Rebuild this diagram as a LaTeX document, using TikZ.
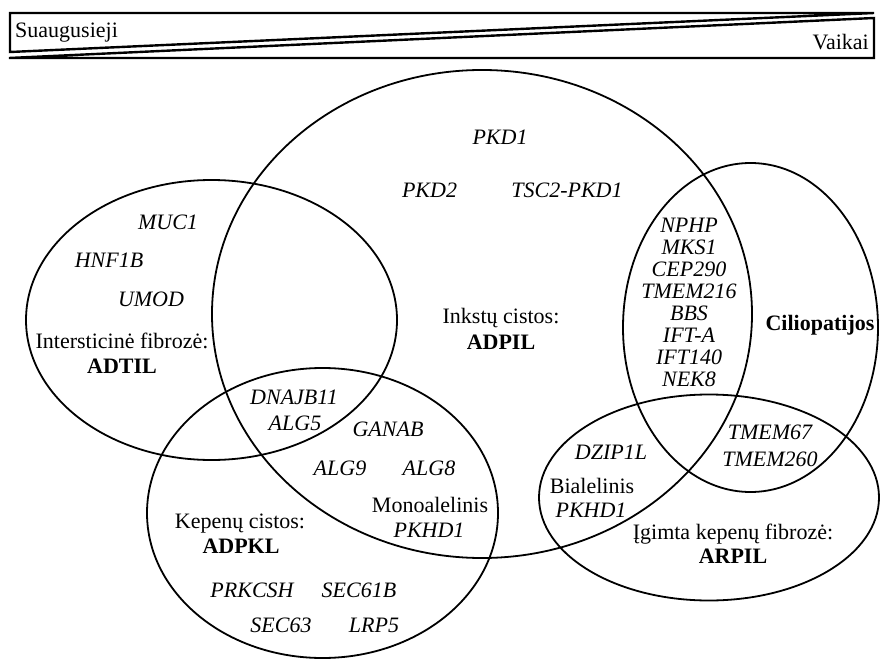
\documentclass[tikz,border=0pt]{standalone}
\usepackage{fontspec}
\setmainfont{Liberation Serif}
\begin{document}
\begin{tikzpicture}[x=1bp,y=-1bp,
  txt/.style={inner sep=0pt, anchor=base, font=\fontsize{22bp}{25bp}\selectfont},
  gene/.style={txt, font=\fontsize{22bp}{25bp}\selectfont\itshape},
  grp/.style={txt, font=\fontsize{22bp}{25bp}\selectfont\bfseries},
  ring/.style={draw=black, line width=1.8bp},
  wedge/.style={draw=black, line width=2.4bp}]
\useasboundingbox (0,0) rectangle (880,659);

% age gradient bar
\draw[wedge] (10,13) -- (874,13) -- (10,52) -- cycle;
\draw[wedge] (9,58) -- (874,58) -- (874,18) -- cycle;
\node[txt, anchor=base west] (adults) at (15,38) {Suaugusieji};
\node[txt, anchor=base east] (children) at (869,50) {Vaikai};

% disease sets
\draw[ring] (482,314) ellipse [x radius=270bp, y radius=244bp];     % ADPIL
\draw[ring] (211.5,320) ellipse [x radius=185.5bp, y radius=140bp]; % ADTIL
\draw[ring] (322.5,513) ellipse [x radius=175.5bp, y radius=145bp]; % ADPKL
\draw[ring] (750.5,327.5) ellipse [x radius=127.5bp, y radius=164.5bp]; % ciliopathies
\draw[ring] (709,497.5) ellipse [x radius=170bp, y radius=103bp];   % ARPIL

% ADPIL
\node[gene] (pkd1) at (500,145) {PKD1};
\node[gene] (pkd2) at (429.5,197) {PKD2};
\node[gene] (tsc2) at (567,197) {TSC2-PKD1};
\node[txt] (kidneyA) at (501,323) {Inkstų cistos:};
\node[grp] (adpil) at (501,349) {ADPIL};

% ADTIL
\node[gene] (muc1) at (168,229) {MUC1};
\node[gene] (hnf1b) at (109,267) {HNF1B};
\node[gene] (umod) at (151,306) {UMOD};
\node[txt] (fibA) at (122,348) {Intersticinė fibrozė:};
\node[grp] (adtil) at (122,373) {ADTIL};

% ADPIL / ADTIL / ADPKL overlaps
\node[gene] (dnajb11) at (294,404) {DNAJB11};
\node[gene] (alg5) at (295,430) {ALG5};
\node[gene] (ganab) at (388,436) {GANAB};
\node[gene] (alg9) at (340,475) {ALG9};
\node[gene] (alg8) at (429,475) {ALG8};
\node[txt] (mono) at (430,512) {Monoalelinis};
\node[gene] (pkhdA) at (429,537) {PKHD1};

% ADPKL
\node[txt] (liverA) at (240,528) {Kepenų cistos:};
\node[grp] (adpkl) at (241,553) {ADPKL};
\node[gene] (prkcsh) at (252,597) {PRKCSH};
\node[gene] (sec61b) at (359,597) {SEC61B};
\node[gene] (sec63) at (281,632) {SEC63};
\node[gene] (lrp5) at (374,632) {LRP5};

% ADPIL / ciliopathies overlap
\foreach \g [count=\i] in {NPHP,MKS1,CEP290,TMEM216,BBS,IFT-A,IFT140,NEK8}
  \node[gene] (cil\i) at (689,{232+22.1*(\i-1)}) {\g};
\node[grp] (cilio) at (820,330) {Ciliopatijos};

% ARPIL
\node[gene] (tmem67) at (770,439) {TMEM67};
\node[gene] (tmem260) at (770,466) {TMEM260};
\node[gene] (dzip1l) at (611,459) {DZIP1L};
\node[txt] (bi) at (592,493) {Bialelinis};
\node[gene] (pkhdB) at (591,517) {PKHD1};
\node[txt] (fibB) at (733,539) {Įgimta kepenų fibrozė:};
\node[grp] (arpil) at (733,563) {ARPIL};
\end{tikzpicture}
\end{document}
